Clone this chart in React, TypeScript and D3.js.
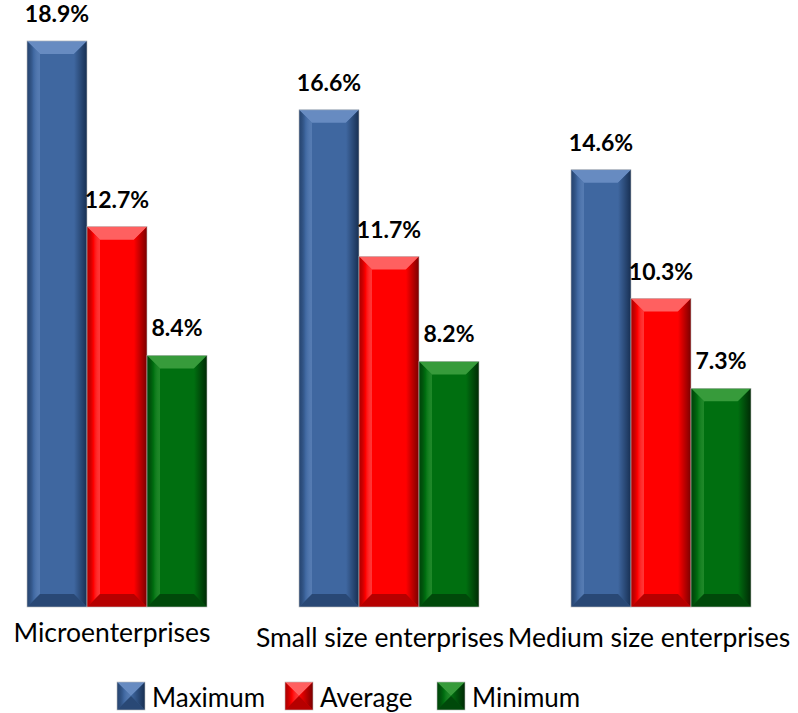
import React from "react";
import * as d3 from "d3";

const categories = ["Microenterprises", "Small size enterprises", "Medium size enterprises"];
const seriesNames = ["Maximum", "Average", "Minimum"];
const maximum = [18.9, 16.6, 14.6];
const average = [12.7, 11.7, 10.3];
const minimum = [8.4, 8.2, 7.3];
const colors = ["#3F67A0", "#FF0000", "#006F10"];
const darks = ["#172F52", "#7A0000", "#002A05"];
const lights = ["#6B8FC4", "#FF6A6A", "#3DA040"];

const W = 798, H = 713;

export default function App() {
  const series = [maximum, average, minimum];
  const x0 = d3.scaleBand().domain(categories).range([27, 751]).paddingInner(92 / 272).paddingOuter(0);
  const x1 = d3.scaleBand().domain(seriesNames).range([0, x0.bandwidth()]);
  const y = d3.scaleLinear().domain([0, 20]).range([607, 8]);

  const bar = (x: number, top: number, w: number, bottom: number, si: number, key: string, bev: number) => {
    const x2 = x + w;
    const h = bottom - top;
    const b = Math.min(bev, h / 2, w / 2);
    return (
      <g key={key}>
        <rect x={x} y={top} width={w} height={h} fill={colors[si]} />
        <polygon points={`${x},${top} ${x2},${top} ${x2 - b},${top + b} ${x + b},${top + b}`} fill={lights[si]} opacity={0.9} />
        <polygon points={`${x2},${top} ${x2},${bottom} ${x2 - b},${bottom - b} ${x2 - b},${top + b}`} fill={`url(#rg${si})`} />
        <polygon points={`${x},${top} ${x + b},${top + b} ${x + b},${bottom - b} ${x},${bottom}`} fill={`url(#lg${si})`} />
        <polygon points={`${x},${bottom} ${x + b},${bottom - b} ${x2 - b},${bottom - b} ${x2},${bottom}`} fill={darks[si]} opacity={0.55} />
        <rect x={x} y={top} width={w} height={h} fill="none" stroke="#bbb" strokeWidth={0.6} />
      </g>
    );
  };

  const labelOffsets = [-5, -9, -12];
  const labelBaselines = [642, 647, 647];
  const legendX = [117, 285, 437];

  return (
    <svg width={W} height={H} style={{ position: "absolute", left: 0, top: 0 }} fontFamily="Lato, 'Open Sans', sans-serif">
      <defs>
        {colors.map((c, i) => (
          <React.Fragment key={i}>
            <linearGradient id={`rg${i}`} x1="0" x2="1" y1="0" y2="0">
              <stop offset="0" stopColor={colors[i]} />
              <stop offset="1" stopColor={darks[i]} />
            </linearGradient>
            <linearGradient id={`lg${i}`} x1="0" x2="1" y1="0" y2="0">
              <stop offset="0" stopColor={darks[i]} stopOpacity={0.6} />
              <stop offset="0.5" stopColor={colors[i]} />
              <stop offset="1" stopColor={lights[i]} stopOpacity={0.5} />
            </linearGradient>
          </React.Fragment>
        ))}
      </defs>
      <rect width={W} height={H} fill="#fff" />
      {categories.map((cat, ci) => (
        <g key={cat}>
          {series.map((s, si) => {
            const bx = (x0(cat) as number) + (x1(seriesNames[si]) as number);
            const top = y(s[ci]);
            return (
              <g key={si}>
                {bar(bx, top, x1.bandwidth(), y(0), si, `b${si}`, 13)}
                <text x={bx + x1.bandwidth() / 2} y={top - 19} textAnchor="middle" fontWeight="bold" fontSize={23} fill="#000">
                  {s[ci].toFixed(1)}%
                </text>
              </g>
            );
          })}
          <text x={(x0(cat) as number) + x0.bandwidth() / 2 + labelOffsets[ci]} y={labelBaselines[ci]} textAnchor="middle" fontSize={26.5} fill="#000">
            {cat}
          </text>
        </g>
      ))}
      {seriesNames.map((n, i) => {
        const lx = legendX[i];
        return (
          <g key={n}>
            {bar(lx, 682, 28, 710, i, `l${i}`, 14)}
            <text x={lx + 35} y={707} fontSize={26} fill="#000">{n}</text>
          </g>
        );
      })}
    </svg>
  );
}
